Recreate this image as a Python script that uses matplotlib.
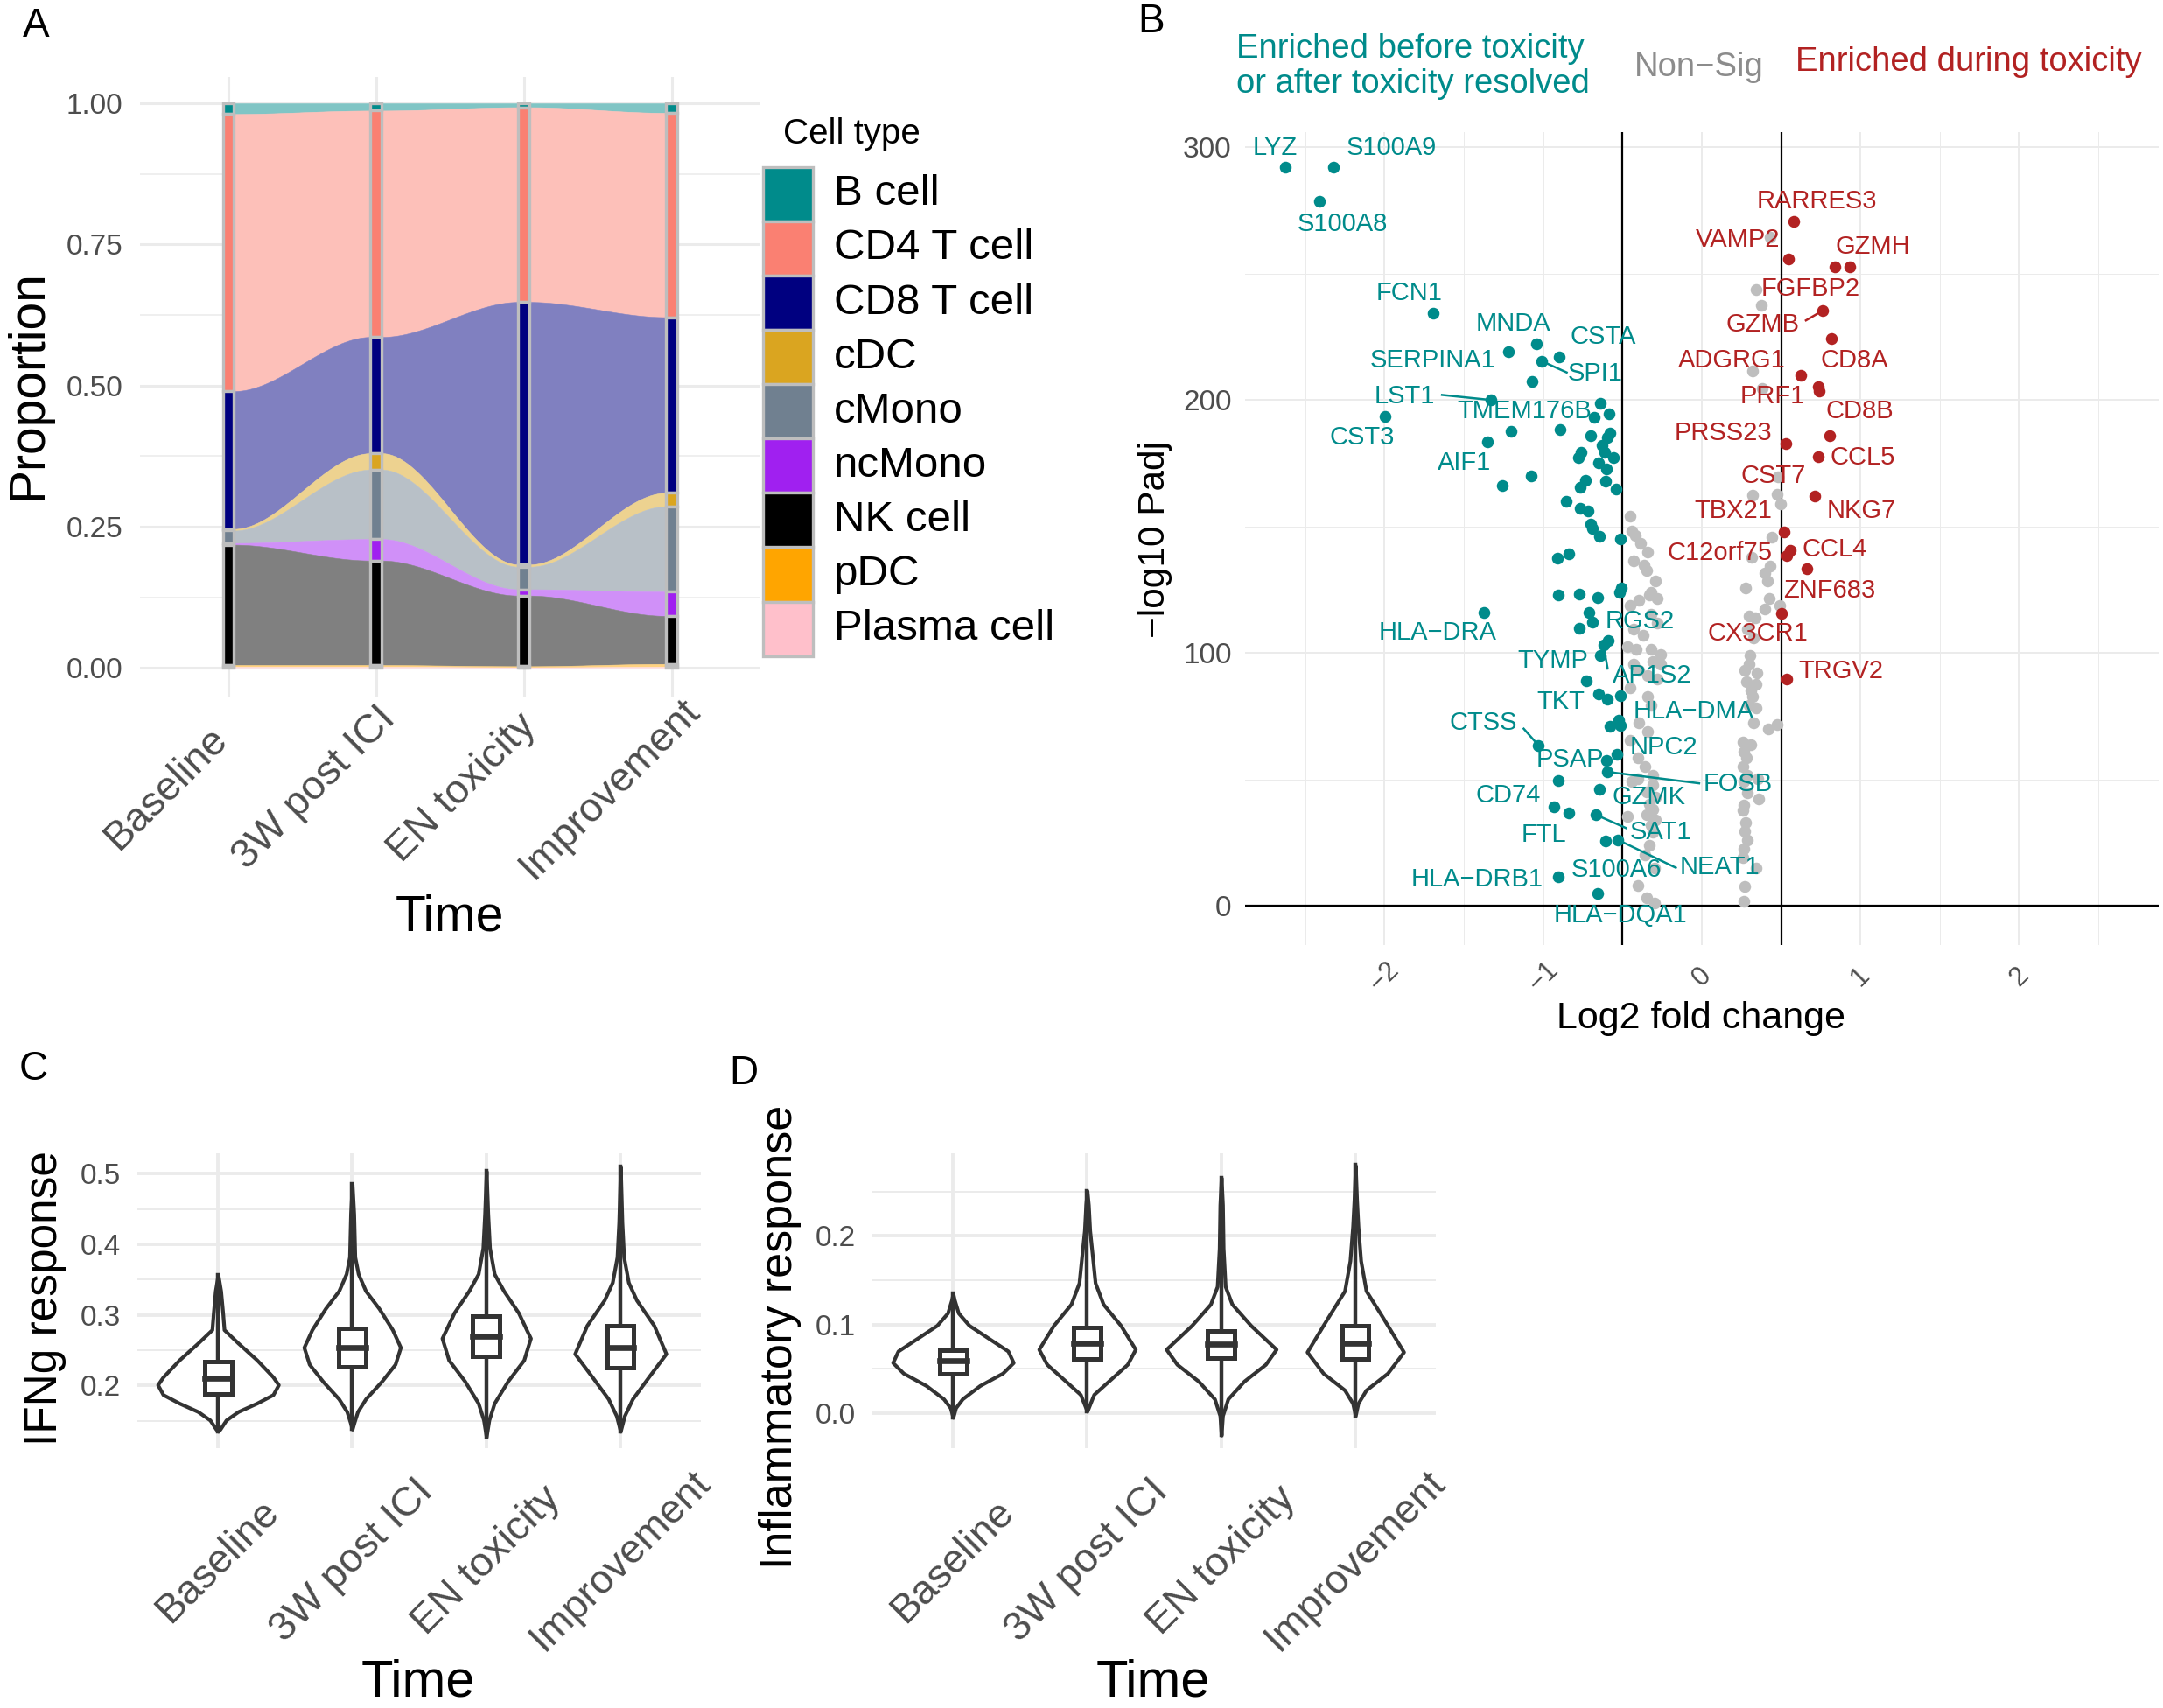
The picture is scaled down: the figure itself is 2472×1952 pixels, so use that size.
import numpy as np
import matplotlib
matplotlib.use('Agg')
import matplotlib.pyplot as plt
from matplotlib.patches import Rectangle
from matplotlib.colors import to_rgb

plt.rcParams['font.family'] = ['Liberation Sans', 'DejaVu Sans']

# ---------------- data ----------------
times = ['Baseline', '3W post ICI', 'EN toxicity', 'Improvement']

# panel A: cell type proportions per time point (top of stack first)
cell_types = ['B cell', 'CD4 T cell', 'CD8 T cell', 'cDC', 'cMono', 'ncMono', 'NK cell', 'pDC', 'Plasma cell']
cell_colors = ['#008B8B', '#FA8072', '#000080', '#DAA520', '#708090', '#A020F0', '#000000', '#FFA500', '#FFC0CB']
prop_b_cell = [0.019, 0.013, 0.007, 0.017]
prop_cd4 = [0.491, 0.401, 0.345, 0.362]
prop_cd8 = [0.244, 0.206, 0.465, 0.311]
prop_cdc = [0.003, 0.029, 0.004, 0.024]
prop_cmono = [0.022, 0.123, 0.040, 0.151]
prop_ncmono = [0.003, 0.038, 0.011, 0.043]
prop_nk = [0.213, 0.185, 0.125, 0.085]
prop_pdc = [0.003, 0.003, 0.002, 0.005]
prop_plasma = [0.002, 0.002, 0.001, 0.002]

# panel B: volcano plot
teal_x = [-2.625, -2.32, -2.41, -1.694, -1.996, -1.04, -1.22, -0.90, -1.01, -1.07, -1.33, -0.68, -0.64,
          -0.585, -1.35, -1.20, -0.895, -0.70, -0.58, -0.594, -0.628, -0.78, -0.76, -0.61, -0.556, -0.653,
          -0.60, -1.077, -1.26, -0.736, -0.767, -0.607, -0.539, -0.856, -0.769, -0.718, -0.70, -0.69,
          -0.647, -0.515, -0.911, -0.841, -0.906, -0.77, -0.655, -0.52, -0.506, -1.376, -0.714, -0.687,
          -0.77, -0.592, -0.62, -0.639, -0.727, -0.653, -0.598, -0.515, -0.524, -0.58, -0.515, -1.03,
          -0.537, -0.60, -0.594, -0.906, -0.644, -0.93, -0.838, -0.666, -0.607, -0.528, -0.906, -0.655]
teal_y = [292.3, 292.3, 278.6, 234.2, 193.5, 222.3, 219.2, 217.1, 215.4, 207.5, 200.0, 193.2, 198.8,
          194.5, 183.6, 187.7, 188.4, 185.9, 186.9, 185.2, 181.9, 177.3, 179.2, 179.2, 177.3, 175.3,
          172.8, 170.0, 166.3, 168.2, 165.5, 167.8, 164.9, 160.0, 157.0, 156.0, 151.0, 149.3,
          146.0, 145.2, 137.4, 139.2, 122.7, 123.3, 121.9, 123.8, 125.6, 116.1, 116.1, 112.0,
          109.7, 104.8, 103.0, 99.0, 88.9, 83.9, 81.6, 83.0, 73.5, 71.0, 71.2, 63.4,
          60.0, 57.3, 52.9, 49.5, 45.9, 39.1, 36.5, 35.9, 25.7, 26.0, 11.3, 4.9]
red_x = [0.577, 0.547, 0.837, 0.932, 0.763, 0.816, 0.621, 0.734, 0.74, 0.808, 0.527, 0.734, 0.713,
         0.52, 0.537, 0.555, 0.662, 0.50, 0.533]
red_y = [270.6, 255.7, 252.7, 252.7, 235.4, 224.2, 209.9, 205.2, 203.5, 186.0, 182.9, 177.6, 162.0,
         147.8, 138.3, 140.4, 133.3, 115.7, 89.7]
gray_x = [-0.45, -0.44, -0.42, -0.386, -0.343, -0.43, -0.362, -0.349, -0.293, -0.321, -0.395, -0.33,
          -0.284, -0.45, -0.32, -0.284, -0.432, -0.367, -0.469, -0.413, -0.32, -0.257, -0.31, -0.257,
          -0.432, -0.395, -0.34, -0.284, -0.45, -0.34, -0.32, -0.395, -0.34, -0.45, -0.40, -0.36, -0.31,
          -0.40, -0.44, -0.31, -0.35, -0.29, -0.33, -0.31, -0.35, -0.29, -0.32, -0.31, -0.469, -0.33,
          -0.36, -0.30, -0.40, -0.35, -0.30,
          0.43, 0.343, 0.376, 0.321, 0.38, 0.48, 0.319, 0.472, 0.494, 0.444, 0.315, 0.43, 0.398, 0.413,
          0.278, 0.426, 0.398, 0.49, 0.297, 0.334, 0.288, 0.325, 0.306, 0.297, 0.27, 0.35, 0.28, 0.34,
          0.31, 0.32, 0.30, 0.343, 0.472, 0.417, 0.325, 0.26, 0.31, 0.265, 0.28, 0.26, 0.286, 0.265,
          0.352, 0.36, 0.286, 0.265, 0.26, 0.276, 0.27, 0.286, 0.265, 0.26, 0.343, 0.27, 0.265]
gray_y = [153.9, 148.3, 146.5, 143.2, 140.0, 136.2, 134.8, 132.5, 128.5, 123.9, 120.9, 122.7,
          121.5, 118.6, 115.2, 111.7, 109.4, 107.0, 102.4, 101.3, 101.3, 99.5, 96.6, 95.5,
          95.5, 93.2, 90.9, 89.7, 86.2, 82.7, 79.3, 72.3, 68.9, 65.4, 58.4, 55.0, 51.5,
          50.3, 49.0, 47.7, 45.0, 43.0, 40.0, 38.0, 36.0, 34.0, 31.8, 29.0, 35.3, 24.0,
          20.0, 15.0, 8.0, 3.0, 1.0,
          264.6, 243.6, 237.6, 211.6, 204.6, 169.5, 162.3, 162.6, 158.8, 145.8, 137.7, 134.4, 131.4, 128.5,
          125.6, 121.5, 117.5, 118.6, 114.6, 114.0, 109.4, 105.9, 99.0, 95.5, 93.2, 92.0, 88.5, 87.4,
          85.0, 82.7, 79.3, 78.1, 71.8, 70.0, 72.3, 64.8, 63.6, 60.8, 58.4, 55.0, 51.5, 49.2,
          50.3, 42.3, 44.6, 39.9, 37.6, 33.0, 29.5, 26.0, 22.6, 19.1, 15.0, 7.5, 1.7]

teal_genes = ['LYZ', 'S100A9', 'S100A8', 'FCN1', 'MNDA', 'CSTA', 'SERPINA1', 'SPI1', 'LST1', 'TMEM176B',
              'CST3', 'AIF1', 'HLA\u2212DRA', 'RGS2', 'TYMP', 'AP1S2', 'TKT', 'HLA\u2212DMA', 'CTSS', 'NPC2',
              'PSAP', 'FOSB', 'CD74', 'GZMK', 'SAT1', 'FTL', 'NEAT1', 'S100A6', 'HLA\u2212DRB1', 'HLA\u2212DQA1']
teal_lab_x = [-2.69, -1.955, -2.265, -1.843, -1.19, -0.623, -1.698, -0.672, -1.872, -1.119,
              -2.141, -1.50, -1.665, -0.391, -0.941, -0.313, -0.888, -0.052, -1.376, -0.239,
              -0.83, 0.229, -1.219, -0.333, -0.259, -0.995, 0.113, -0.54, -1.417, -0.515]
teal_lab_y = [299.6, 299.6, 269.7, 242.2, 230.2, 224.9, 215.6, 210.3, 201.6, 195.7,
              185.3, 175.1, 108.0, 112.5, 96.9, 91.1, 80.6, 76.7, 72.2, 62.6,
              57.8, 48.1, 43.5, 42.9, 29.1, 28.1, 15.1, 14.1, 10.5, -3.9]
red_genes = ['RARRES3', 'VAMP2', 'GZMH', 'FGFBP2', 'GZMB', 'ADGRG1', 'CD8A', 'PRF1', 'CD8B', 'PRSS23',
             'CCL5', 'CST7', 'TBX21', 'NKG7', 'C12orf75', 'CCL4', 'ZNF683', 'CX3CR1', 'TRGV2']
red_lab_x = [0.726, 0.229, 1.077, 0.684, 0.382, 0.188, 0.961, 0.444, 0.994, 0.134,
             1.015, 0.453, 0.195, 1.003, 0.113, 0.837, 0.804, 0.353, 0.878]
red_lab_y = [278.6, 263.4, 260.8, 244.0, 229.8, 215.5, 215.5, 201.6, 195.7, 186.9,
             177.3, 170.0, 156.1, 156.1, 139.6, 141.0, 124.5, 107.6, 92.8]
# label connector segments: (label end x, label end y, point x, point y)
seg_teal = [(-1.638, 202.0, -1.33, 200.0), (-0.852, 210.9, -1.01, 215.4), (-1.123, 70.0, -1.03, 63.4),
            (-0.017, 48.4, -0.594, 52.9), (-0.478, 30.7, -0.666, 35.9), (-0.164, 15.0, -0.528, 26.0),
            (-0.594, 93.8, -0.62, 103.0)]
seg_red = [(0.656, 231.5, 0.763, 235.4)]

# panels C / D: violin outlines (value, half width) and box stats (q1, median, q3, whisker low, whisker high)
ifng_vy = [[0.135, 0.138, 0.151, 0.163, 0.175, 0.187, 0.201, 0.212, 0.236, 0.260, 0.279, 0.303, 0.334, 0.357],
           [0.138, 0.148, 0.163, 0.181, 0.206, 0.230, 0.254, 0.279, 0.309, 0.334, 0.358, 0.382, 0.443, 0.485],
           [0.127, 0.151, 0.175, 0.206, 0.236, 0.267, 0.303, 0.334, 0.358, 0.395, 0.443, 0.504],
           [0.135, 0.157, 0.181, 0.212, 0.245, 0.285, 0.321, 0.346, 0.382, 0.431, 0.510]]
ifng_vw = [[0, 0.015, 0.06, 0.15, 0.29, 0.41, 0.45, 0.41, 0.29, 0.15, 0.045, 0.035, 0.02, 0],
           [0, 0.015, 0.04, 0.10, 0.22, 0.32, 0.36, 0.30, 0.20, 0.10, 0.045, 0.02, 0.012, 0],
           [0, 0.02, 0.06, 0.16, 0.28, 0.33, 0.24, 0.13, 0.06, 0.025, 0.012, 0],
           [0, 0.03, 0.09, 0.21, 0.34, 0.25, 0.12, 0.06, 0.025, 0.012, 0]]
ifng_box = [[0.188, 0.210, 0.2335, 0.136, 0.300],
            [0.226, 0.254, 0.281, 0.148, 0.370],
            [0.241, 0.270, 0.298, 0.150, 0.376],
            [0.225, 0.254, 0.285, 0.148, 0.373]]
infl_vy = [[-0.005, 0.006, 0.016, 0.031, 0.045, 0.057, 0.070, 0.084, 0.099, 0.113, 0.128, 0.135],
           [0.002, 0.021, 0.036, 0.055, 0.072, 0.099, 0.123, 0.147, 0.177, 0.206, 0.235, 0.251],
           [-0.025, -0.003, 0.016, 0.036, 0.055, 0.072, 0.099, 0.123, 0.143, 0.186, 0.235, 0.266],
           [-0.003, 0.011, 0.026, 0.045, 0.069, 0.109, 0.138, 0.172, 0.211, 0.240, 0.280]]
infl_vw = [[0, 0.02, 0.07, 0.20, 0.37, 0.45, 0.41, 0.27, 0.12, 0.04, 0.01, 0],
           [0, 0.05, 0.16, 0.30, 0.36, 0.25, 0.12, 0.06, 0.04, 0.02, 0.01, 0],
           [0, 0.01, 0.05, 0.17, 0.33, 0.41, 0.22, 0.08, 0.03, 0.015, 0.01, 0],
           [0, 0.02, 0.08, 0.24, 0.36, 0.20, 0.08, 0.04, 0.02, 0.01, 0]]
infl_box = [[0.044, 0.059, 0.071, 0.011, 0.111],
            [0.061, 0.079, 0.097, 0.016, 0.147],
            [0.062, 0.078, 0.093, 0.016, 0.133],
            [0.061, 0.079, 0.099, 0.016, 0.155]]

TEAL = '#008B8B'
RED = '#B22222'
GRID = '#EBEBEB'
TICK = '#4D4D4D'
DARK = '#333333'

# ---------------- figure helpers ----------------
W, H = 2472, 1952
fig = plt.figure(figsize=(W / 100, H / 100), dpi=100)


def add_axes_px(l, t, r, b):
    return fig.add_axes([l / W, 1 - b / H, (r - l) / W, (b - t) / H])


def fig_text(x, y, s, **kw):
    return fig.text(x / W, 1 - y / H, s, **kw)


def style_axes(ax, major_lw, minor_lw, pad):
    for sp in ax.spines.values():
        sp.set_visible(False)
    ax.set_axisbelow(True)
    ax.grid(True, which='major', color=GRID, lw=major_lw, zorder=0)
    ax.grid(True, which='minor', color=GRID, lw=minor_lw, zorder=0)
    ax.tick_params(which='both', length=0)
    ax.tick_params(axis='y', labelcolor=TICK, labelsize=24, pad=pad)
    ax.set_xticklabels([])


def blend(c, a=0.5):
    r, g, b = to_rgb(c)
    return (r * a + 1 - a, g * a + 1 - a, b * a + 1 - a)


# ---------------- panel A: alluvial ----------------
axA = add_axes_px(159.5, 87.7, 869, 796.2)
xpos = np.arange(1, 5)
props = np.array([prop_b_cell, prop_cd4, prop_cd8, prop_cdc, prop_cmono, prop_ncmono,
                  prop_nk, prop_pdc, prop_plasma])
# stack from the last type at the bottom
tops = np.cumsum(props[::-1], axis=0)[::-1]
bottoms = tops - props
bar_w = 0.075
tt = np.linspace(0, 1, 80)
ss = tt * tt * (3 - 2 * tt)
for i in range(3):
    x0 = xpos[i] + bar_w / 2
    x1 = xpos[i + 1] - bar_w / 2
    xx = x0 + (x1 - x0) * tt
    for k in range(len(cell_types)):
        lo = bottoms[k, i] + (bottoms[k, i + 1] - bottoms[k, i]) * ss
        hi = tops[k, i] + (tops[k, i + 1] - tops[k, i]) * ss
        fc = blend(cell_colors[k])
        axA.fill_between(xx, lo, hi, facecolor=fc, edgecolor=fc, lw=0.4, zorder=2)
for k in range(len(cell_types)):
    axA.bar(xpos, props[k], bottom=bottoms[k], width=bar_w, color=cell_colors[k],
            edgecolor='#BEBEBE', linewidth=2.4, zorder=3)
axA.set_xlim(0.4, 4.6)
axA.set_ylim(-0.051, 1.047)
axA.set_xticks(xpos)
axA.set_yticks([0, 0.25, 0.5, 0.75, 1.0])
axA.set_yticks([0.125, 0.375, 0.625, 0.875], minor=True)
style_axes(axA, 2.2, 1.1, 14)
axA.set_yticklabels(['0.00', '0.25', '0.50', '0.75', '1.00'])
for i, t in enumerate(times):
    axA.text(xpos[i] - 0.419, -0.148, t, transform=axA.get_xaxis_transform(), rotation=45,
             ha='center', va='center', fontsize=33.5, color=TICK)
fig_text(32, 440, 'Proportion', rotation=90, ha='center', va='center', fontsize=41)
fig_text(514, 1049, 'Time', ha='center', va='center', fontsize=41)
fig_text(41.5, 29.5, 'A', ha='center', va='center', fontsize=33)

# legend for panel A
fig_text(895, 153, 'Cell type', ha='left', va='center', fontsize=29)
row_h = 62.1
for k, ct in enumerate(cell_types):
    top = 190.8 + k * row_h
    fig.add_artist(Rectangle((871.6 / W, 1 - (top + row_h) / H), 57.4 / W, row_h / H,
                             transform=fig.transFigure, facecolor=cell_colors[k],
                             edgecolor='#BEBEBE', lw=2.4))
    fig_text(953, top + row_h / 2, ct, ha='left', va='center', fontsize=35.5)

# ---------------- panel B: volcano ----------------
axB = add_axes_px(1423, 151, 2467, 1080)
axB.set_xlim(-2.88, 2.88)
axB.set_ylim(-15.6, 306)
axB.set_xticks([-2, -1, 0, 1, 2])
axB.set_xticks([-2.5, -1.5, -0.5, 0.5, 1.5, 2.5], minor=True)
axB.set_yticks([0, 100, 200, 300])
axB.set_yticks([50, 150, 250], minor=True)
style_axes(axB, 1.4, 0.7, 11)
axB.axvline(-0.5, color='black', lw=1.6, zorder=1)
axB.axvline(0.5, color='black', lw=1.6, zorder=1)
axB.axhline(0, color='black', lw=1.6, zorder=1)
axB.scatter(gray_x, gray_y, s=95, color='#BEBEBE', linewidths=0, zorder=3)
axB.scatter(teal_x, teal_y, s=95, color=TEAL, linewidths=0, zorder=4)
axB.scatter(red_x, red_y, s=95, color=RED, linewidths=0, zorder=4)
for x0, y0, x1, y1 in seg_teal:
    axB.plot([x0, x1], [y0, y1], color=TEAL, lw=1.8, zorder=4)
for x0, y0, x1, y1 in seg_red:
    axB.plot([x0, x1], [y0, y1], color=RED, lw=1.8, zorder=4)
for g, x, y in zip(teal_genes, teal_lab_x, teal_lab_y):
    axB.text(x, y, g, color=TEAL, fontsize=21, ha='center', va='center', zorder=5, clip_on=False)
for g, x, y in zip(red_genes, red_lab_x, red_lab_y):
    axB.text(x, y, g, color=RED, fontsize=21, ha='center', va='center', zorder=5, clip_on=False)
for v in [-2, -1, 0, 1, 2]:
    axB.text(v, -0.039, str(v).replace('-', '\u2212'), transform=axB.get_xaxis_transform(),
             rotation=45, ha='center', va='center', fontsize=22, color=TICK)
fig_text(1944, 1164, 'Log2 fold change', ha='center', va='center', fontsize=31)
fig_text(1320, 616, '\u2212log10 Padj', rotation=90, ha='center', va='center', fontsize=30.5)
fig_text(1316, 25, 'B', ha='center', va='center', fontsize=33)
fig_text(1413, 76, 'Enriched before toxicity\nor after toxicity resolved', ha='left', va='center',
         fontsize=27.5, color=TEAL, linespacing=1.12)
fig_text(1942, 77, 'Non\u2212Sig', ha='center', va='center', fontsize=27.5, color='#8C8C8C')
fig_text(2250, 71, 'Enriched during toxicity', ha='center', va='center', fontsize=27.5, color=RED)


# ---------------- panels C and D: violins ----------------
def violin_panel(ax, vys, vws, boxes):
    for i in range(4):
        xc = i + 1
        vy = np.array(vys[i])
        vw = np.array(vws[i])
        ax.fill_betweenx(vy, xc - vw, xc + vw, facecolor='white', edgecolor=DARK, lw=3.0,
                         joinstyle='round', zorder=2)
        q1, med, q3, wlo, whi = boxes[i]
        ax.plot([xc, xc], [vy[0], vy[-1]], color=DARK, lw=3.2, zorder=3)
        ax.add_patch(Rectangle((xc - 0.1, q1), 0.2, q3 - q1, facecolor='white', edgecolor=DARK,
                               lw=3.6, zorder=4))
        ax.plot([xc - 0.1, xc + 0.1], [med, med], color=DARK, lw=4.8, zorder=5)
    ax.set_xlim(0.4, 4.6)
    ax.set_xticks(np.arange(1, 5))
    for i, t in enumerate(times):
        ax.text(i + 1, -0.382, t, transform=ax.get_xaxis_transform(), rotation=45,
                ha='center', va='center', fontsize=33.5, color=TICK)


axC = add_axes_px(157.2, 1317.9, 801, 1655.1)
violin_panel(axC, ifng_vy, ifng_vw, ifng_box)
axC.set_ylim(0.111, 0.529)
axC.set_yticks([0.2, 0.3, 0.4, 0.5])
axC.set_yticks([0.15, 0.25, 0.35, 0.45], minor=True)
style_axes(axC, 2.8, 1.4, 14)
axC.set_yticklabels(['0.2', '0.3', '0.4', '0.5'])
fig_text(51.5, 1484, 'IFNg response', rotation=90, ha='center', va='center', fontsize=37)
fig_text(478, 1923, 'Time', ha='center', va='center', fontsize=43)
fig_text(38, 1222, 'C', ha='center', va='center', fontsize=33)

axD = add_axes_px(997.2, 1317.9, 1641, 1655.1)
violin_panel(axD, infl_vy, infl_vw, infl_box)
axD.set_ylim(-0.0398, 0.2934)
axD.set_yticks([0.0, 0.1, 0.2])
axD.set_yticks([0.05, 0.15, 0.25], minor=True)
style_axes(axD, 2.8, 1.4, 14)
axD.set_yticklabels(['0.0', '0.1', '0.2'])
fig_text(891.5, 1528, 'Inflammatory response', rotation=90, ha='center', va='center', fontsize=37.5)
fig_text(1318, 1923, 'Time', ha='center', va='center', fontsize=43)
fig_text(850, 1227, 'D', ha='center', va='center', fontsize=33)

fig.savefig('out.png', dpi=100, facecolor='white')
